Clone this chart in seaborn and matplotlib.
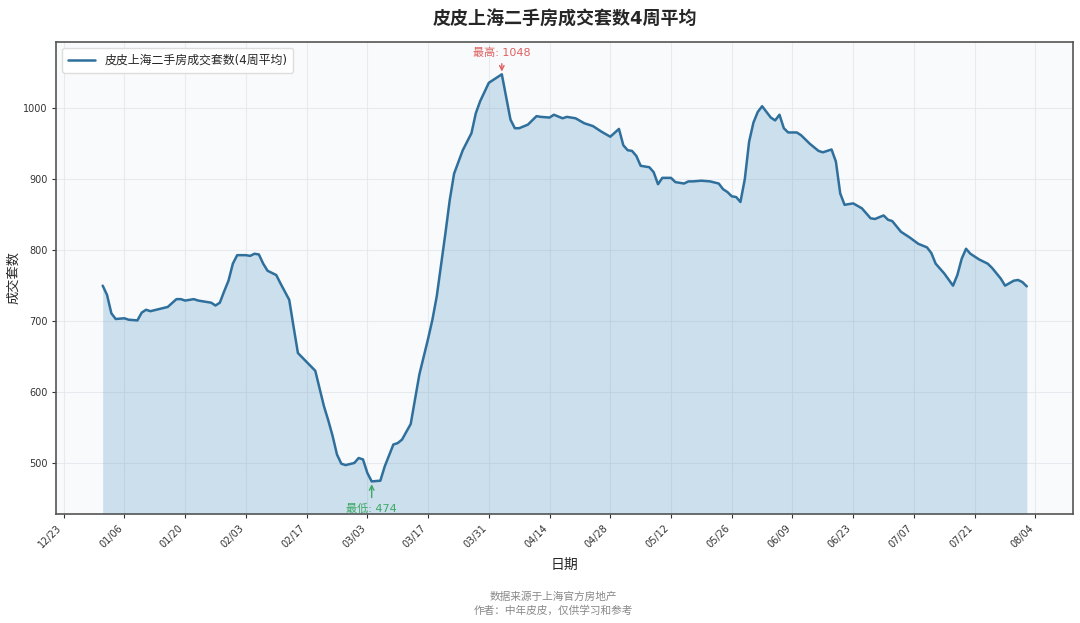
import numpy as np
import pandas as pd
import seaborn as sns
import matplotlib
matplotlib.use("Agg")
import matplotlib.pyplot as plt
import matplotlib.dates as mdates

# 数据（读图估计的4周平均成交套数，2025年）
dates = ["01-01", "01-02", "01-03", "01-04", "01-06", "01-07", "01-09", "01-10",
         "01-11", "01-12", "01-14", "01-16", "01-18", "01-19", "01-20", "01-22",
         "01-23", "01-26", "01-27", "01-28", "01-29", "01-30", "01-31", "02-01",
         "02-03", "02-04", "02-05", "02-06", "02-07", "02-08", "02-10", "02-11",
         "02-13", "02-14", "02-15", "02-19", "02-21", "02-22", "02-23", "02-24",
         "02-25", "02-26", "02-28", "03-01", "03-02", "03-03", "03-04", "03-06",
         "03-07", "03-09", "03-10", "03-11", "03-12", "03-13", "03-15", "03-17",
         "03-18", "03-19", "03-21", "03-22", "03-23", "03-25", "03-27", "03-28",
         "03-29", "03-31", "04-01", "04-03", "04-04", "04-05", "04-06", "04-07",
         "04-09", "04-11", "04-12", "04-14", "04-15", "04-17", "04-18", "04-20",
         "04-22", "04-24", "04-26", "04-28", "04-30", "05-01", "05-02", "05-03",
         "05-04", "05-05", "05-07", "05-08", "05-09", "05-10", "05-12", "05-13",
         "05-15", "05-16", "05-17", "05-19", "05-21", "05-23", "05-24", "05-25",
         "05-26", "05-27", "05-28", "05-29", "05-30", "05-31", "06-01", "06-02",
         "06-03", "06-04", "06-05", "06-06", "06-07", "06-08", "06-10", "06-11",
         "06-13", "06-15", "06-16", "06-18", "06-19", "06-20", "06-21", "06-23",
         "06-25", "06-27", "06-28", "06-30", "07-01", "07-02", "07-04", "07-06",
         "07-08", "07-10", "07-11", "07-12", "07-14", "07-16", "07-17", "07-18",
         "07-19", "07-20", "07-22", "07-24", "07-25", "07-27", "07-28", "07-30",
         "07-31", "08-01", "08-02"]
values = [750, 737, 711, 703, 704, 702, 701, 712,
          716, 714, 717, 720, 731, 731, 729, 731,
          729, 726, 722, 726, 742, 757, 781, 793,
          793, 792, 795, 794, 781, 771, 765, 753,
          730, 692, 655, 630, 580, 560, 538, 512,
          499, 497, 500, 507, 505, 486, 474, 475,
          495, 526, 528, 533, 544, 555, 625, 675,
          702, 735, 824, 871, 908, 941, 965, 993,
          1010, 1036, 1040, 1048, 1016, 984, 972, 972,
          977, 989, 988, 987, 991, 986, 988, 986,
          979, 975, 967, 960, 971, 948, 941, 940,
          933, 919, 917, 910, 893, 902, 902, 896,
          894, 897, 897, 898, 897, 894, 886, 882,
          876, 875, 868, 900, 953, 980, 995, 1003,
          995, 987, 983, 991, 972, 966, 966, 962,
          950, 940, 938, 942, 925, 880, 864, 866,
          859, 845, 844, 849, 843, 841, 826, 818,
          809, 804, 796, 781, 767, 750, 765, 788,
          802, 795, 787, 781, 775, 760, 750, 757,
          758, 755, 749]

series_label = "皮皮上海二手房成交套数(4周平均)"
title = "皮皮上海二手房成交套数4周平均"
footer = "数据来源于上海官方房地产\n作者：中年皮皮，仅供学习和参考"

df = pd.DataFrame({"日期": pd.to_datetime(["2025-" + d for d in dates]), "成交套数": values})

sns.set_style("ticks")
plt.rcParams["font.family"] = ["DejaVu Sans", "Noto Sans CJK SC"]
plt.rcParams["axes.unicode_minus"] = False

line_color = "#2f6f9c"
fig = plt.figure(figsize=(10.8, 6.23), dpi=100)
ax = fig.add_axes([0.0523, 0.175, 0.9412, 0.758])
ax.set_facecolor("#f8fafc")

sns.lineplot(data=df, x="日期", y="成交套数", ax=ax, color=line_color, linewidth=1.8, label=series_label)

vmin, vmax = df["成交套数"].min(), df["成交套数"].max()
pad = (vmax - vmin) * 0.08
ax.set_ylim(vmin - pad, vmax + pad)
ax.fill_between(df["日期"], df["成交套数"], vmin - pad, color="#4a8fbf", alpha=0.25, linewidth=0)

# 最高 / 最低 标注
i_max = df["成交套数"].idxmax()
i_min = df["成交套数"].idxmin()
ax.annotate(f"最高: {vmax}", xy=(df["日期"][i_max], vmax), xytext=(0, 12), textcoords="offset points",
            ha="center", va="bottom", fontsize=8, color="#e06060",
            arrowprops=dict(arrowstyle="->", color="#e06060", lw=1))
ax.annotate(f"最低: {vmin}", xy=(df["日期"][i_min], vmin), xytext=(0, -16), textcoords="offset points",
            ha="center", va="top", fontsize=8, color="#3aa864",
            arrowprops=dict(arrowstyle="->", color="#3aa864", lw=1))

ticks = pd.date_range("2024-12-23", "2025-08-04", freq="14D")
ax.set_xticks(ticks)
ax.xaxis.set_major_formatter(mdates.DateFormatter("%m/%d"))
plt.setp(ax.get_xticklabels(), rotation=45, ha="right")
ax.tick_params(axis="both", labelsize=7, colors="#333333", length=3)
ax.set_yticks([500, 600, 700, 800, 900, 1000])

ax.grid(True, color="#e3e7ec", linewidth=0.8, alpha=0.8)
for s in ax.spines.values():
    s.set_color("#555555")
    s.set_linewidth(1.2)

ax.set_title(title, fontsize=13, fontweight="bold", pad=12)
ax.set_xlabel("日期", fontsize=10, labelpad=6)
ax.set_ylabel("成交套数", fontsize=9.5, labelpad=2)
ax.legend(loc="upper left", fontsize=8.6, frameon=True, facecolor="white", edgecolor="#dddddd",
          framealpha=1, handlelength=2.2, borderpad=0.5)

fig.text(0.512, 0.031, footer, ha="center", va="center", fontsize=7.7, color="#888888", linespacing=1.3)

fig.savefig("out.png", dpi=100)
